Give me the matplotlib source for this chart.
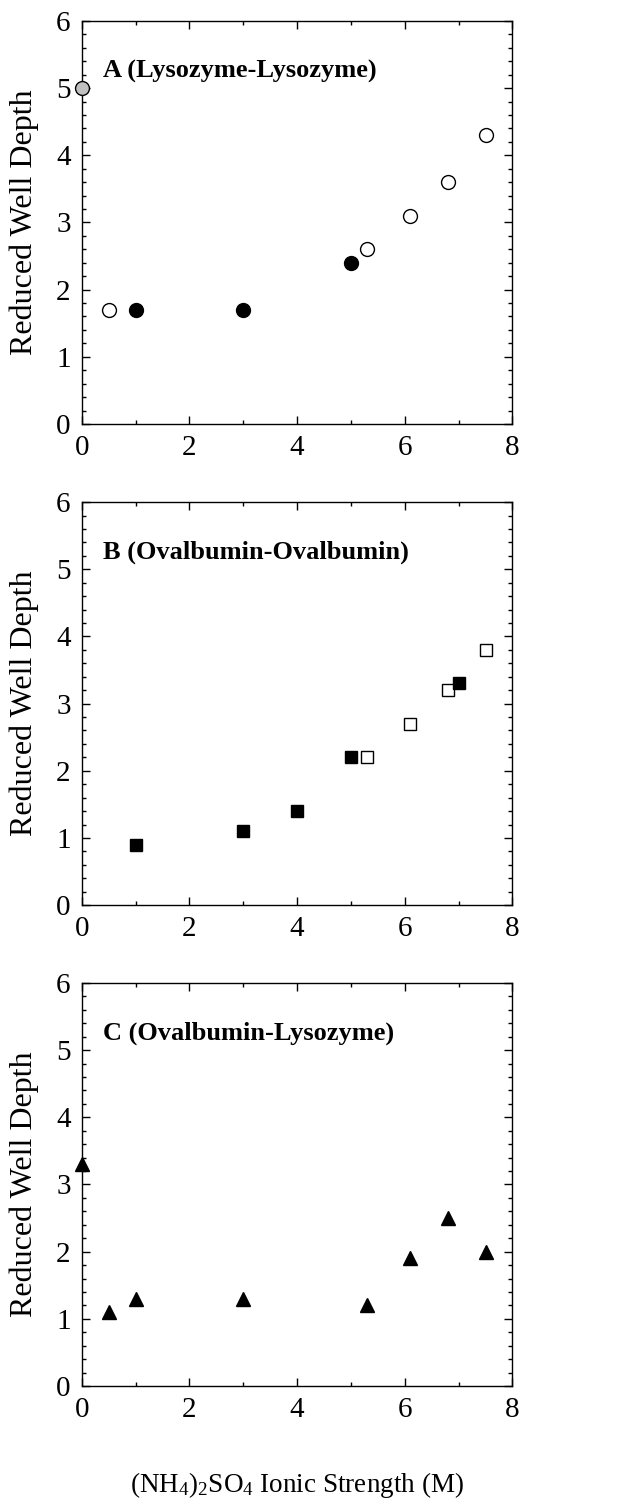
import matplotlib
matplotlib.use("Agg")
import matplotlib.pyplot as plt
from matplotlib.ticker import MultipleLocator

plt.rcParams['font.family'] = ['Liberation Serif', 'DejaVu Serif']
plt.rcParams['mathtext.fontset'] = 'custom'
plt.rcParams['mathtext.rm'] = 'Liberation Serif'

# Panel A: lysozyme-lysozyme
a_gray_x = [0.0]
a_gray_y = [5.0]
a_open_x = [0.5, 5.3, 6.1, 6.8, 7.5]
a_open_y = [1.7, 2.6, 3.1, 3.6, 4.3]
a_fill_x = [1, 3, 5]
a_fill_y = [1.7, 1.7, 2.4]

# Panel B: ovalbumin-ovalbumin
b_fill_x = [1, 3, 4, 5, 7]
b_fill_y = [0.9, 1.1, 1.4, 2.2, 3.3]
b_open_x = [5.3, 6.1, 6.8, 7.5]
b_open_y = [2.2, 2.7, 3.2, 3.8]

# Panel C: ovalbumin-lysozyme
c_x = [0.0, 0.5, 1, 3, 5.3, 6.1, 6.8, 7.5]
c_y = [3.3, 1.1, 1.3, 1.3, 1.2, 1.9, 2.5, 2.0]

titles = ['A (Lysozyme-Lysozyme)', 'B (Ovalbumin-Ovalbumin)', 'C (Ovalbumin-Lysozyme)']

fig = plt.figure(figsize=(6.39, 15.06), dpi=100)
bottoms = [0.7185, 0.399, 0.0797]
axes = [fig.add_axes([0.128, b, 0.674, 0.2676]) for b in bottoms]

ax = axes[0]
ax.plot(a_gray_x, a_gray_y, 'o', ms=10, mfc='#c0c0c0', mec='black', mew=1, clip_on=False, zorder=5)
ax.plot(a_open_x, a_open_y, 'o', ms=10, mfc='white', mec='black', mew=1, clip_on=False)
ax.plot(a_fill_x, a_fill_y, 'o', ms=10, mfc='black', mec='black', clip_on=False)

ax = axes[1]
ax.plot(b_open_x, b_open_y, 's', ms=9, mfc='white', mec='black', mew=1, clip_on=False)
ax.plot(b_fill_x, b_fill_y, 's', ms=9, mfc='black', mec='black', clip_on=False)

ax = axes[2]
ax.plot(c_x, c_y, '^', ms=10, mfc='black', mec='black', clip_on=False, zorder=5)

for ax, t in zip(axes, titles):
    ax.set_xlim(0, 8)
    ax.set_ylim(0, 6)
    ax.xaxis.set_major_locator(MultipleLocator(2))
    ax.xaxis.set_minor_locator(MultipleLocator(1))
    ax.yaxis.set_major_locator(MultipleLocator(1))
    ax.yaxis.set_minor_locator(MultipleLocator(0.2))
    ax.tick_params(which='both', direction='in', top=True, right=True, width=1)
    ax.tick_params(which='major', length=6, labelsize=21, pad=8)
    ax.tick_params(which='minor', length=3)
    for s in ax.spines.values():
        s.set_linewidth(1)
    ax.set_ylabel('Reduced Well Depth', fontsize=23, labelpad=12)
    ax.text(0.05, 0.875, t, transform=ax.transAxes, fontsize=19, fontweight='bold', va='center')

fig.text(0.465, 0.004, r'(NH$\mathregular{_4}$)$\mathregular{_2}$SO$\mathregular{_4}$ Ionic Strength (M)',
         fontsize=19.5, ha='center', va='bottom')

fig.savefig('out.png', dpi=100)
